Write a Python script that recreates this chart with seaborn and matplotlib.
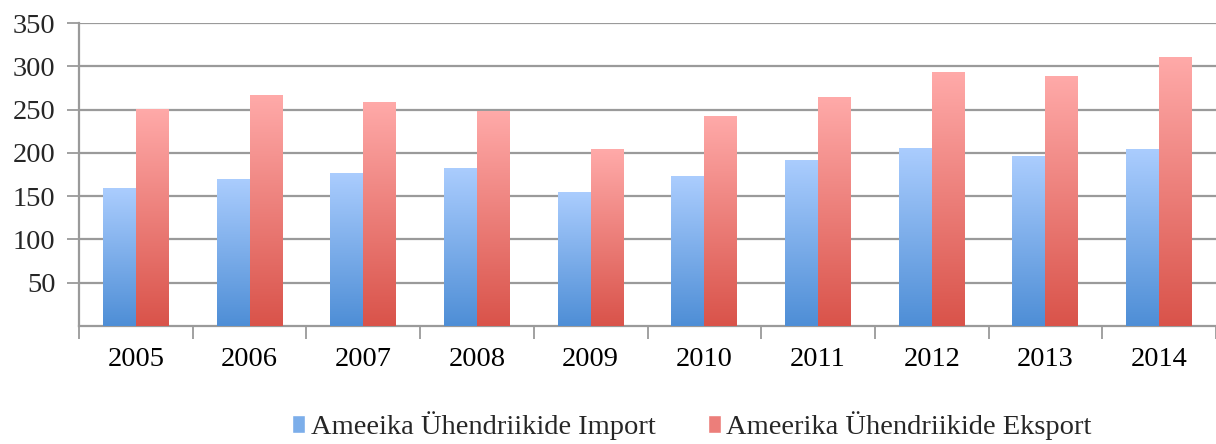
import numpy as np
import pandas as pd
import matplotlib
matplotlib.use("Agg")
import matplotlib.pyplot as plt
import matplotlib.patches as mpatches
import seaborn as sns

years = ["2005", "2006", "2007", "2008", "2009", "2010", "2011", "2012", "2013", "2014"]
import_vals = [159, 170, 177, 183, 155, 173, 192, 206, 196, 205]
export_vals = [251, 267, 259, 248, 204, 243, 264, 293, 289, 311]
series = ["Ameeika Ühendriikide Import", "Ameerika Ühendriikide Eksport"]
y_ticks = [50, 100, 150, 200, 250, 300, 350]

# gradient colours: (top, bottom)
grad = {
    series[0]: ("#abcdfe", "#4e8ed6"),
    series[1]: ("#ffaaa9", "#d9534a"),
}

df = pd.DataFrame({
    "year": years * 2,
    "value": import_vals + export_vals,
    "series": [series[0]] * len(years) + [series[1]] * len(years),
})

sns.set_theme(style="white")
plt.rcParams["font.family"] = ["Liberation Serif", "DejaVu Serif"]

fig = plt.figure(figsize=(12.16, 4.44), dpi=100)
ax = fig.add_axes([0.065, 0.266, 0.935, 0.682])

sns.barplot(data=df, x="year", y="value", hue="series", order=years,
            hue_order=series, width=0.58, palette=[grad[s][1] for s in series],
            legend=False, ax=ax, saturation=1)

n = len(years)
# gradient fill clipped to each bar
for i, bar in enumerate(ax.patches[:2 * n]):
    s = series[i // n]
    top = np.array(matplotlib.colors.to_rgb(grad[s][0]))
    bot = np.array(matplotlib.colors.to_rgb(grad[s][1]))
    t = np.linspace(0, 1, 256)[:, None]
    img = (top[None, :] * (1 - t) + bot[None, :] * t)[:, None, :]
    x0, y0 = bar.get_x(), bar.get_y()
    w, h = bar.get_width(), bar.get_height()
    im = ax.imshow(img, extent=[x0, x0 + w, y0, y0 + h], aspect="auto",
                   zorder=3, origin="upper")
    im.set_clip_path(bar)
    bar.set_facecolor("none")
    bar.set_edgecolor("none")

ax.set_xlim(-0.5, n - 0.5)
ax.set_ylim(0, 350)

ax.set_yticks(y_ticks)
ax.set_yticklabels([str(v) for v in y_ticks])
ax.yaxis.grid(True, color="#9a9a9a", linewidth=1.6)
ax.set_axisbelow(True)
ax.set_xticks(range(n))
ax.set_xticklabels(years)
ax.set_xticks(np.arange(-0.5, n, 1.0), minor=True)
ax.tick_params(axis="x", which="major", length=0, labelsize=20.5, pad=15, colors="black")
ax.tick_params(axis="x", which="minor", length=9, width=1.3, color="#9a9a9a",
               direction="out", bottom=True)
ax.tick_params(axis="y", length=9, width=1.3, color="#9a9a9a", direction="out",
               labelsize=20.5, pad=8, left=True)
ax.set_xlabel("")
ax.set_ylabel("")

for side in ["top", "right"]:
    ax.spines[side].set_visible(False)
for side in ["left", "bottom"]:
    ax.spines[side].set_color("#9a9a9a")
    ax.spines[side].set_linewidth(1.6)

handles = [mpatches.Patch(facecolor=matplotlib.colors.to_hex(
    np.mean([matplotlib.colors.to_rgb(c) for c in grad[s]], axis=0)), label=s)
    for s in series]
fig.legend(handles=handles, loc="lower center", bbox_to_anchor=(0.569, -0.048),
           ncol=2, frameon=False, fontsize=20.5, handlelength=0.45, handleheight=0.6,
           handletextpad=0.2, columnspacing=1.85)

fig.savefig("out.png", dpi=100)
